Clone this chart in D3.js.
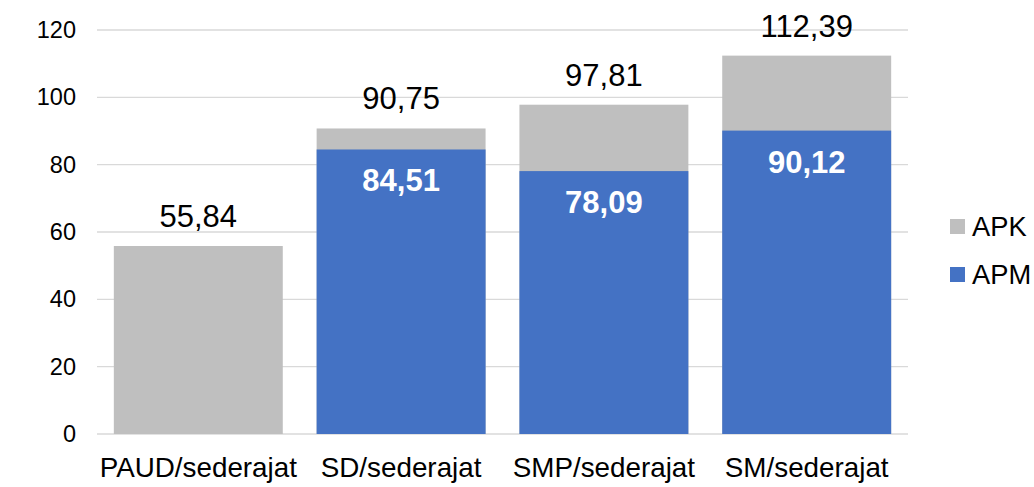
<!DOCTYPE html>
<html>
<head>
<meta charset="utf-8">
<script src="https://cdn.jsdelivr.net/npm/d3@7"></script>
<style>
    body { margin: 0; background: #fff; }
    svg { display: block; font-family: "Liberation Sans", Arial, sans-serif; }
</style>
</head>
<body>
<svg width="1034" height="487"></svg>
<script>
// данные графика
const categories = ["PAUD/sederajat", "SD/sederajat", "SMP/sederajat", "SM/sederajat"];
const apkValues = [55.84, 90.75, 97.81, 112.39];
const apmValues = [null, 84.51, 78.09, 90.12];
const yTicks = [0, 20, 40, 60, 80, 100, 120];
const seriesNames = ["APK", "APM"];

const colors = { APK: "#bfbfbf", APM: "#4472c4" };

const svg = d3.select("svg");

// область построения
const area = { left: 97, right: 908, top: 30, bottom: 434 };

const fmt = v => v.toFixed(2).replace(".", ",");

const scaleX = d3.scaleBand()
    .domain(categories)
    .range([area.left, area.right])
    .paddingInner(0.167)
    .paddingOuter(0.083);

const scaleY = d3.scaleLinear()
    .domain([0, 120])
    .range([area.bottom, area.top]);

// сетка
svg.append("g")
    .selectAll("line")
    .data(yTicks)
    .enter()
    .append("line")
    .attr("x1", area.left)
    .attr("x2", area.right)
    .attr("y1", d => scaleY(d))
    .attr("y2", d => scaleY(d))
    .attr("stroke", "#d9d9d9")
    .attr("stroke-width", 1.3);

// ось Y
const axisY = svg.append("g")
    .attr("transform", `translate(${area.left - 21}, 0)`)
    .call(d3.axisLeft(scaleY).tickValues(yTicks).tickSize(0).tickPadding(0));
axisY.select(".domain").remove();
axisY.selectAll("text")
    .style("font-size", "23.5px")
    .style("font-family", "Liberation Sans, Arial, sans-serif")
    .attr("fill", "#000");

// ось X
const axisX = svg.append("g")
    .attr("transform", `translate(0, ${area.bottom})`)
    .call(d3.axisBottom(scaleX).tickSize(0).tickPadding(0));
axisX.select(".domain").remove();
axisX.selectAll("text")
    .attr("dy", null)
    .attr("y", 43)
    .style("font-size", "27.8px")
    .style("font-family", "Liberation Sans, Arial, sans-serif")
    .attr("fill", "#000");

const rows = categories.map((c, i) => ({ cat: c, apk: apkValues[i], apm: apmValues[i] }));

// столбцы APK (сзади)
svg.selectAll("rect.apk")
    .data(rows)
    .enter()
    .append("rect")
    .attr("class", "apk")
    .attr("x", d => scaleX(d.cat))
    .attr("y", d => scaleY(d.apk))
    .attr("width", scaleX.bandwidth())
    .attr("height", d => scaleY(0) - scaleY(d.apk))
    .attr("fill", colors.APK);

// столбцы APM (спереди)
svg.selectAll("rect.apm")
    .data(rows.filter(d => d.apm !== null))
    .enter()
    .append("rect")
    .attr("class", "apm")
    .attr("x", d => scaleX(d.cat))
    .attr("y", d => scaleY(d.apm))
    .attr("width", scaleX.bandwidth())
    .attr("height", d => scaleY(0) - scaleY(d.apm))
    .attr("fill", colors.APM);

// подписи APK над столбцами
svg.selectAll("text.apk")
    .data(rows)
    .enter()
    .append("text")
    .attr("class", "apk")
    .attr("x", d => scaleX(d.cat) + scaleX.bandwidth() / 2)
    .attr("y", d => scaleY(d.apk) - 19)
    .attr("text-anchor", "middle")
    .style("font-size", "31px")
    .attr("fill", "#000")
    .text(d => fmt(d.apk));

// подписи APM внутри столбцов
svg.selectAll("text.apm")
    .data(rows.filter(d => d.apm !== null))
    .enter()
    .append("text")
    .attr("class", "apm")
    .attr("x", d => scaleX(d.cat) + scaleX.bandwidth() / 2)
    .attr("y", d => scaleY(d.apm) + 42)
    .attr("text-anchor", "middle")
    .style("font-size", "31px")
    .style("font-weight", "bold")
    .attr("fill", "#fff")
    .text(d => fmt(d.apm));

// легенда
const legend = svg.append("g")
    .selectAll("g")
    .data(seriesNames)
    .enter()
    .append("g")
    .attr("transform", (d, i) => `translate(950, ${219 + i * 48})`);

legend.append("rect")
    .attr("width", 15)
    .attr("height", 15)
    .attr("fill", d => colors[d]);

legend.append("text")
    .attr("x", 22)
    .attr("y", 17)
    .style("font-size", "27.3px")
    .attr("fill", "#000")
    .text(d => d);
</script>
</body>
</html>
